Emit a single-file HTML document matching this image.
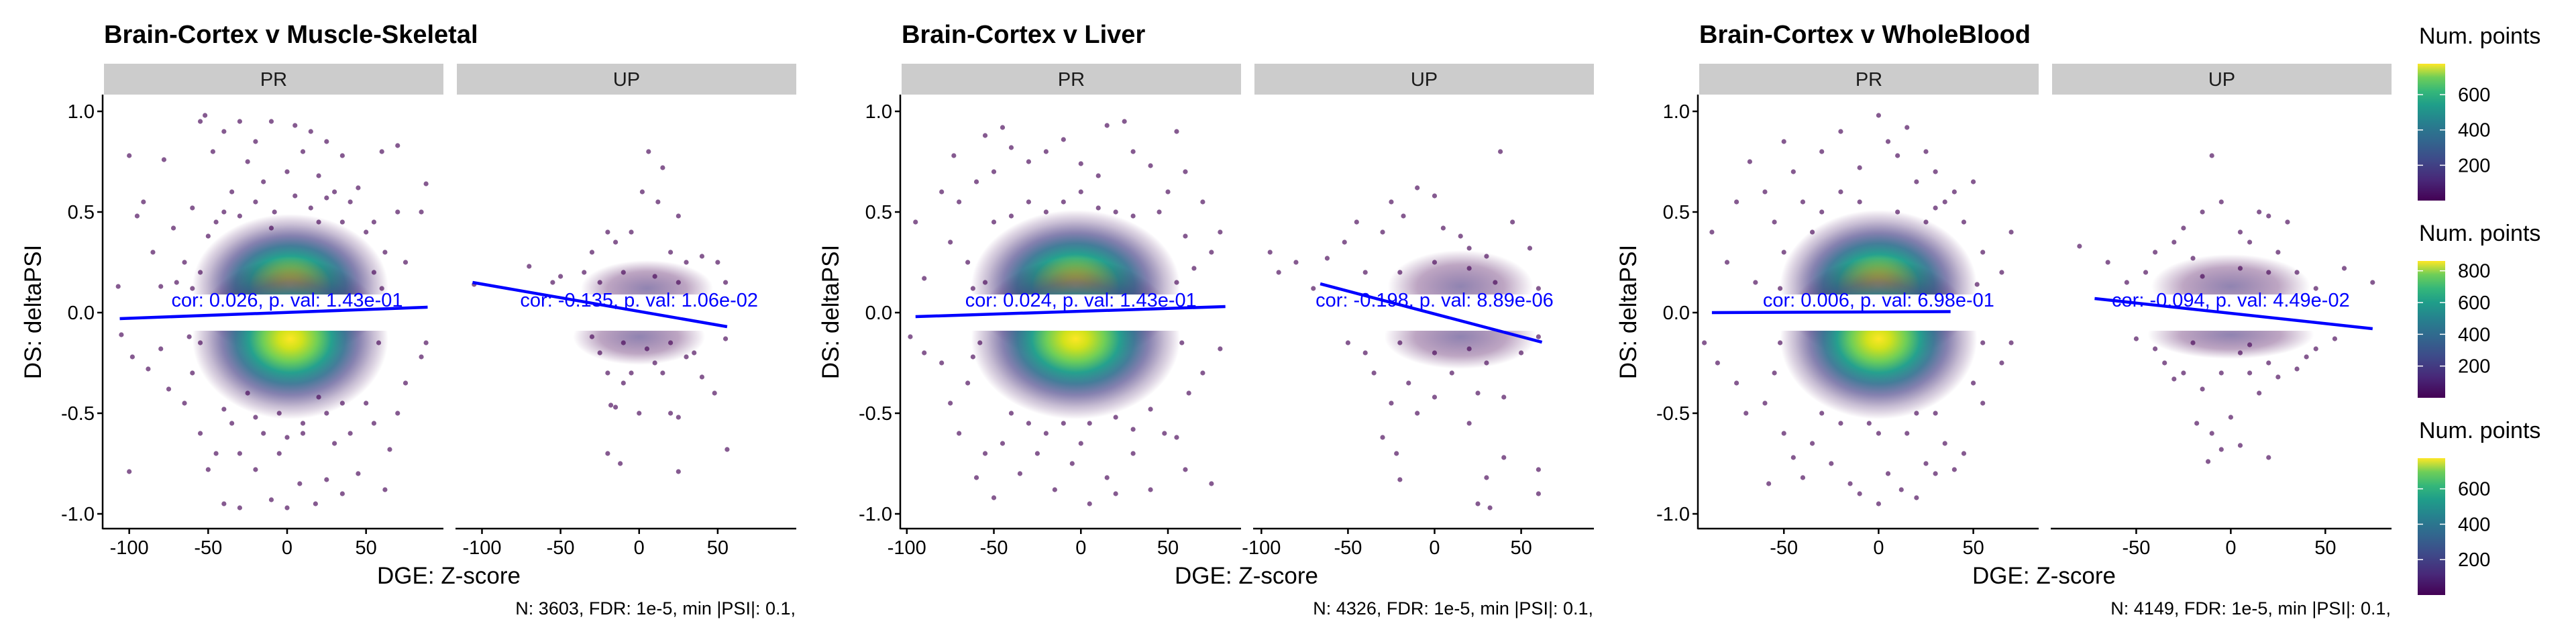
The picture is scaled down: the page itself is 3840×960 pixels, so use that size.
<!DOCTYPE html>
<html><head><meta charset="utf-8">
<style>
html,body{margin:0;padding:0;background:#fff;}
svg{display:block;font-family:"Liberation Sans",sans-serif;}
</style></head>
<body>
<svg id="chart" width="3840" height="960" viewBox="0 0 3840 960" xmlns="http://www.w3.org/2000/svg">
<defs>
<radialGradient id="hiGrad">
<stop offset="0" stop-color="#fde725"/>
<stop offset="0.12" stop-color="#d2e21b"/>
<stop offset="0.28" stop-color="#6ece58"/>
<stop offset="0.42" stop-color="#25a18e"/>
<stop offset="0.56" stop-color="#2f6f8e" stop-opacity="0.9"/>
<stop offset="0.7" stop-color="#433e85" stop-opacity="0.65"/>
<stop offset="0.85" stop-color="#46256f" stop-opacity="0.3"/>
<stop offset="1" stop-color="#440154" stop-opacity="0"/>
</radialGradient>
<radialGradient id="loGrad">
<stop offset="0" stop-color="#46327e" stop-opacity="0.6"/>
<stop offset="0.6" stop-color="#440154" stop-opacity="0.35"/>
<stop offset="1" stop-color="#440154" stop-opacity="0"/>
</radialGradient>
<linearGradient id="viridis" x1="0" y1="1" x2="0" y2="0">
<stop offset="0" stop-color="#440154"/>
<stop offset="0.15" stop-color="#482878"/>
<stop offset="0.3" stop-color="#3e4a89"/>
<stop offset="0.45" stop-color="#31688e"/>
<stop offset="0.58" stop-color="#26828e"/>
<stop offset="0.7" stop-color="#1f9e89"/>
<stop offset="0.8" stop-color="#35b779"/>
<stop offset="0.9" stop-color="#6ece58"/>
<stop offset="1" stop-color="#fde725"/>
</linearGradient>
</defs>
</svg>
<script>
// ---- data ----
const panelTitles = ["Brain-Cortex v Muscle-Skeletal", "Brain-Cortex v Liver", "Brain-Cortex v WholeBlood"];
const facetNames = ["PR", "UP"];
const footers = ["N: 3603, FDR: 1e-5, min |PSI|: 0.1,", "N: 4326, FDR: 1e-5, min |PSI|: 0.1,", "N: 4149, FDR: 1e-5, min |PSI|: 0.1,"];
const xDomainsPR = [[-116, 99], [-103, 92], [-94.7, 84.5]];
const xDomainsUP = [[-116, 100], [-104, 92], [-94.5, 85]];
const xTicksPR = [[-100, -50, 0, 50], [-100, -50, 0, 50], [-50, 0, 50]];
const xTicksUP = [[-100, -50, 0, 50], [-100, -50, 0, 50], [-50, 0, 50]];
const yTicks = [-1.0, -0.5, 0.0, 0.5, 1.0];
const yTickLabels = ["-1.0", "-0.5", "0.0", "0.5", "1.0"];
// regression line endpoints [x1,y1,x2,y2] per panel
const fitPR = [[-106, -0.03, 89, 0.027], [-95, -0.02, 83, 0.03], [-88, 0.0, 38, 0.005]];
const fitUP = [[-106, 0.15, 56, -0.07], [-66, 0.143, 62, -0.147], [-72, 0.07, 75, -0.08]];
const corPR = ["cor: 0.026, p. val: 1.43e-01", "cor: 0.024, p. val: 1.43e-01", "cor: 0.006, p. val: 6.98e-01"];
const corUP = ["cor: -0.135, p. val: 1.06e-02", "cor: -0.198, p. val: 8.89e-06", "cor: -0.094, p. val: 4.49e-02"];
// density blobs [cx, cy, rx, ry] in data units
const blobsPR = [
  [[2, 0.13, 62, 0.36], [2, -0.13, 62, 0.4]],
  [[-3, 0.13, 60, 0.38], [-3, -0.13, 60, 0.4]],
  [[0, 0.13, 52, 0.38], [0, -0.13, 52, 0.4]]
];
const blobsUP = [
  [[5, 0.12, 42, 0.14], [0, -0.12, 42, 0.14]],
  [[15, 0.13, 42, 0.18], [15, -0.12, 44, 0.16]],
  [[0, 0.13, 42, 0.16], [0, -0.11, 44, 0.12]]
];
// scattered points [x, y]
const ptsPR1 = [[-100,0.78],[-95,0.48],[-91,0.55],[-78,0.76],[-72,0.42],[-85,0.3],[-60,0.52],[-55,0.95],[-52,0.98],[-47,0.8],[-40,0.9],[-30,0.95],[-20,0.85],[-10,0.95],[5,0.93],[15,0.9],[25,0.85],[35,0.78],[45,0.62],[60,0.8],[70,0.83],[88,0.64],[85,0.5],[70,0.5],[55,0.45],[-65,0.25],[-80,0.13],[-107,0.13],[-70,0.15],[-35,0.6],[-15,0.65],[0,0.7],[20,0.68],[40,0.55],[-50,0.38],[62,0.3],[75,0.25],[-25,0.75],[10,0.8],[30,0.6],[-45,0.45],[50,0.4],[-40,0.5],[-30,0.48],[-20,0.55],[-8,0.5],[5,0.58],[15,0.52],[25,0.57],[35,0.45],[-55,0.2],[55,0.2],[-60,0.12],[60,0.12],[-10,0.42],[20,0.45],[-105,-0.11],[-98,-0.22],[-88,-0.28],[-100,-0.79],[-75,-0.38],[-65,-0.45],[-55,-0.6],[-50,-0.78],[-45,-0.7],[-40,-0.95],[-30,-0.97],[-20,-0.78],[-10,-0.93],[0,-0.97],[8,-0.85],[18,-0.95],[25,-0.83],[35,-0.9],[45,-0.8],[62,-0.88],[65,-0.68],[70,-0.5],[75,-0.35],[85,-0.22],[88,-0.15],[55,-0.55],[-35,-0.55],[-15,-0.6],[10,-0.6],[30,-0.65],[-60,-0.3],[-80,-0.18],[50,-0.45],[-25,-0.4],[20,-0.42],[-5,-0.7],[40,-0.6],[-40,-0.48],[-20,-0.52],[-5,-0.5],[10,-0.55],[25,-0.5],[35,-0.45],[-55,-0.15],[58,-0.15],[-62,-0.12],[0,-0.62],[-30,-0.7]];
const ptsUP1 = [[-105,0.14],[-70,0.23],[-55,0.15],[-50,0.18],[-35,0.2],[-30,0.3],[-20,0.4],[-15,0.35],[6,0.8],[2,0.6],[-5,0.4],[15,0.72],[12,0.55],[25,0.48],[20,0.3],[30,0.25],[40,0.28],[50,0.25],[55,0.15],[-25,0.15],[-10,0.2],[10,0.18],[25,0.15],[-30,-0.12],[-25,-0.2],[-20,-0.3],[-15,-0.47],[-10,-0.35],[-5,-0.3],[0,-0.5],[10,-0.25],[15,-0.3],[20,-0.5],[25,-0.52],[30,-0.22],[40,-0.32],[48,-0.4],[55,-0.13],[-20,-0.7],[-12,-0.75],[25,-0.79],[56,-0.68],[-18,-0.46],[35,-0.2],[-10,-0.15],[5,-0.18],[20,-0.15]];
const ptsPR2 = [[-95,0.45],[-90,0.17],[-80,0.6],[-73,0.78],[-70,0.55],[-60,0.65],[-55,0.88],[-50,0.7],[-45,0.92],[-40,0.82],[-30,0.75],[-20,0.8],[-10,0.86],[0,0.74],[10,0.68],[15,0.93],[25,0.95],[30,0.8],[40,0.73],[50,0.6],[55,0.9],[60,0.7],[70,0.55],[80,0.4],[75,0.3],[-75,0.35],[-65,0.25],[-30,0.55],[0,0.6],[20,0.5],[45,0.5],[-50,0.45],[60,0.38],[-40,0.48],[-20,0.5],[-10,0.55],[10,0.52],[30,0.48],[-55,0.15],[55,0.15],[-62,0.12],[65,0.22],[-98,-0.12],[-90,-0.2],[-80,-0.25],[-75,-0.45],[-70,-0.6],[-60,-0.82],[-55,-0.7],[-50,-0.92],[-45,-0.65],[-35,-0.8],[-25,-0.7],[-15,-0.88],[-5,-0.75],[5,-0.95],[15,-0.82],[20,-0.9],[30,-0.7],[40,-0.88],[48,-0.6],[55,-0.62],[60,-0.78],[75,-0.85],[80,-0.18],[70,-0.3],[-40,-0.5],[-10,-0.55],[20,-0.52],[40,-0.48],[-65,-0.35],[62,-0.4],[0,-0.65],[-30,-0.55],[-20,-0.6],[5,-0.55],[30,-0.58],[-58,-0.15],[58,-0.15],[-62,-0.22]];
const ptsUP2 = [[-95,0.3],[-90,0.2],[-80,0.25],[-70,0.12],[-62,0.27],[-52,0.35],[-45,0.45],[-40,0.2],[-30,0.4],[-25,0.55],[-18,0.48],[-10,0.62],[0,0.58],[5,0.42],[15,0.38],[20,0.32],[30,0.28],[38,0.8],[45,0.45],[55,0.32],[60,0.12],[-20,0.2],[0,0.25],[20,0.22],[35,0.15],[-50,-0.15],[-40,-0.2],[-35,-0.3],[-25,-0.45],[-15,-0.35],[-10,-0.5],[0,-0.42],[10,-0.3],[20,-0.55],[25,-0.4],[30,-0.25],[40,-0.42],[50,-0.2],[60,-0.12],[-30,-0.62],[-22,-0.7],[-20,-0.83],[30,-0.82],[60,-0.78],[60,-0.9],[25,-0.95],[32,-0.97],[40,-0.72],[-20,-0.15],[0,-0.2],[20,-0.18]];
const ptsPR3 = [[-88,0.4],[-80,0.25],[-75,0.55],[-68,0.75],[-60,0.6],[-55,0.45],[-50,0.85],[-45,0.7],[-40,0.55],[-30,0.8],[-20,0.9],[-10,0.72],[0,0.98],[5,0.85],[10,0.78],[15,0.92],[20,0.65],[25,0.8],[30,0.7],[35,0.55],[40,0.6],[45,0.45],[55,0.3],[65,0.2],[70,0.4],[-65,0.15],[-35,0.4],[-20,0.6],[25,0.45],[-50,0.3],[50,0.65],[-30,0.5],[-10,0.55],[10,0.5],[30,0.52],[-52,0.12],[52,0.14],[-92,-0.15],[-85,-0.25],[-75,-0.35],[-70,-0.5],[-60,-0.45],[-58,-0.85],[-50,-0.6],[-45,-0.72],[-40,-0.82],[-35,-0.65],[-25,-0.75],[-15,-0.85],[-10,-0.9],[0,-0.95],[5,-0.8],[12,-0.88],[20,-0.92],[25,-0.75],[30,-0.8],[35,-0.65],[40,-0.78],[45,-0.7],[55,-0.45],[65,-0.25],[70,-0.15],[-30,-0.5],[-5,-0.55],[15,-0.6],[30,-0.5],[-55,-0.3],[50,-0.35],[-20,-0.55],[0,-0.6],[20,-0.5],[-52,-0.15],[55,-0.15]];
const ptsUP3 = [[-80,0.33],[-65,0.25],[-55,0.15],[-45,0.2],[-40,0.3],[-30,0.35],[-25,0.42],[-20,0.27],[-15,0.5],[-10,0.78],[-5,0.55],[5,0.4],[10,0.35],[15,0.5],[20,0.48],[25,0.3],[30,0.45],[35,0.2],[45,0.12],[60,0.22],[75,0.15],[-15,0.18],[5,0.22],[20,0.2],[-50,-0.13],[-40,-0.18],[-35,-0.25],[-30,-0.33],[-25,-0.3],[-15,-0.38],[-5,-0.3],[0,-0.52],[5,-0.2],[10,-0.3],[15,-0.4],[20,-0.25],[25,-0.32],[35,-0.28],[45,-0.18],[55,-0.13],[-10,-0.6],[-5,-0.68],[5,-0.66],[20,-0.72],[-12,-0.74],[-18,-0.55],[40,-0.22],[-20,-0.15],[10,-0.16]];
const ptsPR = [ptsPR1, ptsPR2, ptsPR3];
const ptsUP = [ptsUP1, ptsUP2, ptsUP3];
// legends
const legendTicks = [[200, 400, 600], [200, 400, 600, 800], [200, 400, 600]];
const legendMax = [775, 862, 773];

// ---- layout ----
const NS = "http://www.w3.org/2000/svg";
const svg = document.getElementById("chart");
const PANEL_DX = 1189, AXIS_X0 = 153, FACET_W = 506, GAP = 20;
const PLOT_TOP = 141, PLOT_BOT = 788;
function yS(v) { return 466 - 300 * v; }
function mk(tag, attrs, parent) {
  const e = document.createElementNS(NS, tag);
  for (const k in attrs) e.setAttribute(k, attrs[k]);
  (parent || svg).appendChild(e);
  return e;
}
function txt(parent, x, y, s, size, extra) {
  const t = mk("text", Object.assign({x: x, y: y, "font-size": size}, extra || {}), parent);
  t.textContent = s;
  return t;
}

for (let p = 0; p < 3; p++) {
  const ax = AXIS_X0 + p * PANEL_DX;
  const g = mk("g", {});
  
  

  const title = txt(g, ax + 2, 64, panelTitles[p], 38, {"font-weight": "bold", fill: "#000"});
  
  

  const ylab = txt(g, 0, 0, "DS: deltaPSI", 35, {"text-anchor": "middle", transform: "translate(" + (ax - 92) + ",465) rotate(-90)"});
  
  

  const yAxis = mk("line", {x1: ax, y1: PLOT_TOP, x2: ax, y2: PLOT_BOT + 1, stroke: "#000", "stroke-width": 2.5}, g);
  
  
  for (let i = 0; i < yTicks.length; i++) {
    const yy = yS(yTicks[i]);
    mk("line", {x1: ax - 8, y1: yy, x2: ax, y2: yy, stroke: "#000", "stroke-width": 2.5}, g);
    const tl = txt(g, ax - 12, yy + 10, yTickLabels[i], 29, {"text-anchor": "end", fill: "#000"});
    
    
  }

  const xt = txt(g, ax + FACET_W + GAP / 2, 870, "DGE: Z-score", 35, {"text-anchor": "middle"});
  
  
  const ft = txt(g, ax + 2 * FACET_W + GAP + 1, 916, footers[p], 27, {"text-anchor": "end"});
  
  

  for (let f = 0; f < 2; f++) {
    const left = ax + 2 + f * (FACET_W + GAP);
    const dom = f === 0 ? xDomainsPR[p] : xDomainsUP[p];
    const xS = v => left + (v - dom[0]) / (dom[1] - dom[0]) * FACET_W;
    const fg = mk("g", {}, g);
    
    

    const strip = mk("rect", {x: left, y: 95, width: FACET_W, height: 46, fill: "#cccccc"}, fg);
    
    
    const st = txt(fg, left + FACET_W / 2, 128, facetNames[f], 29, {"text-anchor": "middle", fill: "#1a1a1a"});
    
    

    const blobs = f === 0 ? blobsPR[p] : blobsUP[p];
    for (const b of blobs) {
      const x0 = xS(b[0] - b[2]), x1 = xS(b[0] + b[2]);
      const el = mk("ellipse", {cx: xS(b[0]), cy: yS(b[1]), rx: (x1 - x0) / 2, ry: b[3] * 300, fill: f === 0 ? "url(#hiGrad)" : "url(#loGrad)"}, fg);
      
      
    }
    mk("rect", {x: left, y: yS(0.1) + 3, width: FACET_W, height: yS(-0.1) - yS(0.1) - 6, fill: "#fff"}, fg);

    const pts = f === 0 ? ptsPR[p] : ptsUP[p];
    for (const pt of pts) {
      const c = mk("circle", {cx: xS(pt[0]), cy: yS(pt[1]), r: 3.6, fill: "#440154", "fill-opacity": 0.65}, fg);
      
      
    }

    const fit = f === 0 ? fitPR[p] : fitUP[p];
    const ln = mk("line", {x1: xS(fit[0]), y1: yS(fit[1]), x2: xS(fit[2]), y2: yS(fit[3]), stroke: "#0000ff", "stroke-width": 4.5}, fg);
    
    
    const ct = txt(fg, xS(0), 457, f === 0 ? corPR[p] : corUP[p], 29, {"text-anchor": "middle", fill: "#0000ff"});
    
    

    const xa = mk("line", {x1: left - 2, y1: PLOT_BOT, x2: left + FACET_W, y2: PLOT_BOT, stroke: "#000", "stroke-width": 2.5}, fg);
    
    
    const ticks = f === 0 ? xTicksPR[p] : xTicksUP[p];
    for (const tv of ticks) {
      const xx = xS(tv);
      mk("line", {x1: xx, y1: PLOT_BOT, x2: xx, y2: PLOT_BOT + 8, stroke: "#000", "stroke-width": 2.5}, fg);
      const tl = txt(fg, xx, 826, String(tv), 29, {"text-anchor": "middle", fill: "#000"});
      
      
    }
  }
}

const legTop = [95, 389, 683];
for (let i = 0; i < 3; i++) {
  const lg = mk("g", {});
  
  
  const lt = txt(lg, 3606, legTop[i] - 30, "Num. points", 34, {});
  
  
  const top = legTop[i], h = 204, bot = top + h;
  const bar = mk("rect", {x: 3604, y: top, width: 41, height: h, fill: "url(#viridis)"}, lg);
  
  
  for (const tv of legendTicks[i]) {
    const yy = bot - tv / legendMax[i] * h;
    mk("line", {x1: 3604, y1: yy, x2: 3612, y2: yy, stroke: "#fff", "stroke-width": 1.5}, lg);
    mk("line", {x1: 3637, y1: yy, x2: 3645, y2: yy, stroke: "#fff", "stroke-width": 1.5}, lg);
    const tl = txt(lg, 3664, yy + 10, String(tv), 29, {fill: "#000"});
    
    
  }
}
</script>
</body></html>
